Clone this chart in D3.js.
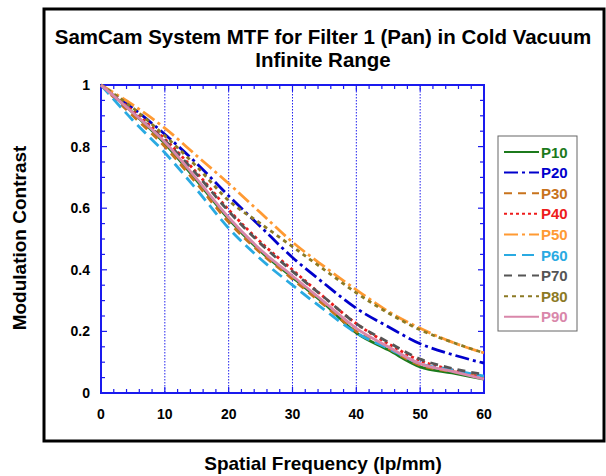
<!DOCTYPE html>
<html>
<head>
<meta charset="utf-8">
<script src="https://cdn.jsdelivr.net/npm/d3@7/dist/d3.min.js"></script>
<style>
  body { margin: 0; background: #fff; }
  svg { display: block; font-family: "Liberation Sans", Arial, sans-serif; }
</style>
</head>
<body>
<svg id="chart" width="606" height="476"></svg>
<script>
// spatial frequency samples (lp/mm)
const freqs = [0, 5, 10, 15, 20, 25, 30, 35, 40, 45, 50, 55, 60];

const seriesNames = ['P10', 'P20', 'P30', 'P40', 'P50', 'P60', 'P70', 'P80', 'P90'];

const p10 = [1, 0.910, 0.810, 0.690, 0.565, 0.460, 0.375, 0.290, 0.195, 0.140, 0.085, 0.065, 0.045];
const p20 = [1, 0.925, 0.840, 0.745, 0.640, 0.540, 0.440, 0.355, 0.275, 0.215, 0.160, 0.125, 0.097];
const p30 = [1, 0.900, 0.800, 0.680, 0.555, 0.455, 0.370, 0.285, 0.200, 0.145, 0.090, 0.070, 0.050];
const p40 = [1, 0.915, 0.825, 0.715, 0.595, 0.490, 0.400, 0.310, 0.225, 0.160, 0.105, 0.075, 0.050];
const p50 = [1, 0.935, 0.860, 0.770, 0.680, 0.585, 0.490, 0.410, 0.335, 0.265, 0.210, 0.165, 0.130];
const p60 = [1, 0.885, 0.780, 0.660, 0.535, 0.435, 0.350, 0.270, 0.195, 0.145, 0.095, 0.075, 0.055];
const p70 = [1, 0.910, 0.820, 0.710, 0.590, 0.485, 0.395, 0.310, 0.225, 0.165, 0.110, 0.080, 0.060];
const p80 = [1, 0.925, 0.835, 0.735, 0.625, 0.550, 0.475, 0.400, 0.325, 0.260, 0.205, 0.165, 0.130];
const p90 = [1, 0.910, 0.815, 0.695, 0.570, 0.465, 0.380, 0.295, 0.210, 0.150, 0.095, 0.070, 0.045];

const seriesValues = [p10, p20, p30, p40, p50, p60, p70, p80, p90];

const xTicks = [0, 10, 20, 30, 40, 50, 60];
const yTicks = [0, 0.2, 0.4, 0.6, 0.8, 1];

const colors = ['#1c7a1c', '#0000cc', '#c8731c', '#ee1c1c', '#ff9a33', '#2aaae2', '#555555', '#8c7a24', '#d987aa'];
const dashes = ['none', '14,4,3,4', '8,6', '3,3', '14,4,3,4', '12,6', '8,6', '4,4', 'none'];

const svg = d3.select('#chart');
const pLeft = 101, pRight = 484, pTop = 85, pBottom = 393;

let x = d3.scaleLinear().domain([0, 60]).range([pLeft, pRight]);
let y = d3.scaleLinear().domain([0, 1]).range([pBottom, pTop]);

// outer frame
svg.append('rect')
    .attr('x', 44).attr('y', 9)
    .attr('width', 560).attr('height', 432)
    .attr('fill', 'none')
    .attr('stroke', '#000')
    .attr('stroke-width', 3);

svg.append('text')
    .attr('x', 323).attr('y', 44)
    .attr('text-anchor', 'middle')
    .attr('font-size', 20.5).attr('font-weight', 'bold')
    .text('SamCam System MTF for Filter 1 (Pan) in Cold Vacuum');
svg.append('text')
    .attr('x', 323).attr('y', 67)
    .attr('text-anchor', 'middle')
    .attr('font-size', 20.5).attr('font-weight', 'bold')
    .text('Infinite Range');

// vertical dotted grid
svg.append('g')
    .selectAll('line')
    .data(xTicks.slice(1, -1))
    .enter().append('line')
        .attr('x1', d => x(d)).attr('x2', d => x(d))
        .attr('y1', pTop).attr('y2', pBottom)
        .attr('stroke', '#2222ee')
        .attr('stroke-width', 1)
        .attr('stroke-dasharray', '1.5,1.5');

// inner ticks on all four sides
const axisClr = '#1a1aee';
const xMinor = d3.range(0, 61, 2);
const yMinor = d3.range(0, 1.001, 0.05);
let tg = svg.append('g').attr('stroke', axisClr).attr('stroke-width', 1.2);
xMinor.forEach(v => {
    let len = (v % 10 === 0) ? 6 : 4;
    tg.append('line').attr('x1', x(v)).attr('x2', x(v)).attr('y1', pBottom).attr('y2', pBottom - len);
    tg.append('line').attr('x1', x(v)).attr('x2', x(v)).attr('y1', pTop).attr('y2', pTop + len);
});
yMinor.forEach(v => {
    let major = Math.abs(Math.round(v * 100) % 20) === 0;
    let len = major ? 6 : 4;
    tg.append('line').attr('y1', y(v)).attr('y2', y(v)).attr('x1', pLeft).attr('x2', pLeft + len);
    tg.append('line').attr('y1', y(v)).attr('y2', y(v)).attr('x1', pRight).attr('x2', pRight - len);
});

svg.append('rect')
    .attr('x', pLeft).attr('y', pTop)
    .attr('width', pRight - pLeft).attr('height', pBottom - pTop)
    .attr('fill', 'none')
    .attr('stroke', axisClr)
    .attr('stroke-width', 2);

// tick labels
svg.append('g')
    .selectAll('text')
    .data(xTicks)
    .enter().append('text')
        .attr('x', d => x(d)).attr('y', 419)
        .attr('text-anchor', 'middle')
        .attr('font-size', 14).attr('font-weight', 'bold')
        .text(d => d);
svg.append('g')
    .selectAll('text')
    .data(yTicks)
    .enter().append('text')
        .attr('x', 90).attr('y', d => y(d) + 5)
        .attr('text-anchor', 'end')
        .attr('font-size', 14).attr('font-weight', 'bold')
        .text(d => d);

// axis titles
svg.append('text')
    .attr('x', 323).attr('y', 470)
    .attr('text-anchor', 'middle')
    .attr('font-size', 19).attr('font-weight', 'bold')
    .text('Spatial Frequency (lp/mm)');
svg.append('text')
    .attr('transform', 'translate(26,238) rotate(-90)')
    .attr('text-anchor', 'middle')
    .attr('font-size', 19).attr('font-weight', 'bold')
    .text('Modulation Contrast');

// curves
let line = d3.line()
    .x((d, i) => x(freqs[i]))
    .y(d => y(d))
    .curve(d3.curveMonotoneX);

svg.append('g')
    .selectAll('path')
    .data(seriesValues)
    .enter().append('path')
        .attr('d', line)
        .attr('fill', 'none')
        .attr('stroke', (d, i) => colors[i])
        .attr('stroke-width', 2.8)
        .attr('stroke-dasharray', (d, i) => dashes[i]);

// legend
let lg = svg.append('g');
lg.append('rect')
    .attr('x', 498).attr('y', 136)
    .attr('width', 79).attr('height', 195)
    .attr('fill', '#fff')
    .attr('stroke', '#666')
    .attr('stroke-width', 1);
let rows = lg.selectAll('g.row')
    .data(seriesNames)
    .enter().append('g')
        .attr('class', 'row')
        .attr('transform', (d, i) => `translate(0, ${152 + i * 20.6})`);
rows.append('line')
    .attr('x1', 504).attr('x2', 539)
    .attr('stroke', (d, i) => colors[i])
    .attr('stroke-width', 2)
    .attr('stroke-dasharray', (d, i) => dashes[i] === 'none' ? null : dashes[i]);
rows.append('text')
    .attr('x', 541).attr('y', 5.5)
    .attr('font-size', 15).attr('font-weight', 'bold')
    .attr('fill', (d, i) => colors[i])
    .text(d => d);
</script>
</body>
</html>
